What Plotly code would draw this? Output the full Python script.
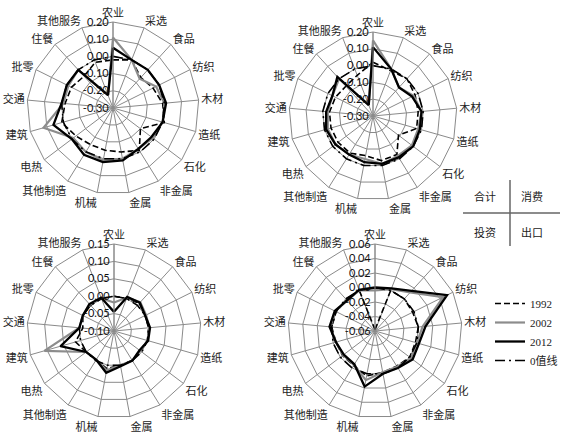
import plotly.graph_objects as go

W, H = 566, 434

categories = ["农业", "采选", "食品", "纺织", "木材", "造纸", "石化", "非金属", "金属",
              "机械", "其他制造", "电热", "建筑", "交通", "批零", "住餐", "其他服务"]

years = ["1992", "2002", "2012"]

# 合计 (top-left)
total_1992 = [-0.02, 0.00, -0.06, -0.04, -0.01, 0.01, -0.10, -0.01, -0.04, -0.05, -0.05, -0.03, 0.01, -0.02, -0.03, -0.05, -0.015]
total_2002 = [0.11, 0.00, -0.07, -0.02, 0.00, 0.00, -0.01, -0.02, 0.00, 0.01, 0.00, -0.01, 0.12, -0.01, -0.01, 0.00, -0.22]
total_2012 = [0.05, 0.00, 0.00, 0.00, 0.01, 0.00, -0.02, -0.02, 0.01, 0.02, 0.02, 0.00, 0.06, 0.00, 0.00, 0.00, -0.22]

# 消费 (top-right)
cons_1992 = [0.02, -0.01, 0.00, -0.02, -0.03, -0.03, -0.11, -0.03, -0.03, -0.06, -0.04, -0.04, -0.04, -0.04, -0.05, -0.06, -0.04]
cons_2002 = [0.15, 0.00, -0.07, -0.03, -0.01, -0.02, -0.01, -0.02, -0.01, -0.04, -0.03, -0.02, -0.02, -0.03, -0.03, 0.00, -0.23]
cons_2012 = [0.11, 0.00, -0.07, -0.04, -0.01, -0.01, 0.00, -0.01, -0.01, -0.02, -0.03, -0.02, -0.01, -0.02, -0.03, 0.015, -0.23]

# 投资 (bottom-left)
inv_1992 = [0.00, 0.00, 0.008, 0.00, 0.00, 0.00, -0.006, 0.00, 0.00, 0.01, -0.003, 0.00, 0.015, -0.01, 0.00, 0.00, 0.00]
inv_2002 = [-0.018, 0.003, 0.012, 0.003, 0.002, 0.00, -0.005, 0.00, 0.00, 0.015, -0.003, 0.00, 0.108, 0.00, 0.00, 0.003, 0.00]
inv_2012 = [-0.045, 0.005, 0.01, 0.00, 0.004, 0.002, -0.008, 0.00, 0.003, 0.022, -0.003, 0.00, 0.06, 0.00, 0.00, 0.005, 0.003]

# 出口 (bottom-right)
exp_1992 = [-0.058, 0.00, 0.00, -0.002, 0.00, -0.002, 0.00, -0.003, -0.002, 0.003, -0.004, -0.004, -0.004, 0.00, 0.00, -0.002, 0.00]
exp_2002 = [-0.004, 0.002, 0.012, 0.045, 0.006, 0.00, 0.002, -0.002, -0.002, 0.009, -0.005, -0.005, -0.004, 0.002, 0.001, -0.003, 0.00]
exp_2012 = [0.00, 0.003, 0.015, 0.051, 0.01, 0.003, 0.005, 0.00, 0.00, 0.018, -0.006, -0.006, -0.004, 0.003, 0.002, -0.003, 0.001]

zero_line = [0.0] * len(categories)

tick_tl = [-0.30, -0.20, -0.10, 0.00, 0.10, 0.20]
tick_bl = [-0.10, -0.05, 0.00, 0.05, 0.10, 0.15]
tick_br = [-0.06, -0.04, -0.02, 0.00, 0.02, 0.04, 0.06]

quad_labels = ["合计", "消费", "投资", "出口"]

panels = [
    ("polar", [total_1992, total_2002, total_2012], tick_tl, (113, 108, 86)),
    ("polar2", [cons_1992, cons_2002, cons_2012], tick_tl, (373, 116, 84)),
    ("polar3", [inv_1992, inv_2002, inv_2012], tick_bl, (114, 331, 87)),
    ("polar4", [exp_1992, exp_2002, exp_2012], tick_br, (375, 331, 87)),
]

styles = [
    dict(color="black", width=1.6, dash="6px,3px"),
    dict(color="#8c8c8c", width=2.2, dash="solid"),
    dict(color="black", width=2.3, dash="solid"),
]
zero_style = dict(color="black", width=1.6, dash="10px,4px,2px,4px")

SANS = "Lato, 'Noto Sans CJK SC', sans-serif"
SERIF = "'Liberation Serif', 'Noto Sans CJK SC', serif"

fig = go.Figure()

def closed(vals):
    return list(vals) + [vals[0]]

cats_closed = categories + [categories[0]]

layout_polars = {}
for i, (pname, series, ticks, (cx, cy, r)) in enumerate(panels):
    first = i == 0
    for y, vals, st in zip(years, series, styles):
        fig.add_trace(go.Scatterpolar(
            r=closed(vals), theta=cats_closed, mode="lines", subplot=pname,
            line=st, name=y, showlegend=first, legendgroup=y, hoverinfo="skip"))
    fig.add_trace(go.Scatterpolar(
        r=closed(zero_line), theta=cats_closed, mode="lines", subplot=pname,
        line=zero_style, name="0值线", showlegend=first, legendgroup="zero", hoverinfo="skip"))
    # center hub
    fig.add_trace(go.Scatterpolar(
        r=[ticks[0]], theta=[categories[0]], mode="markers", subplot=pname,
        marker=dict(color="#8a8a8a", size=9), showlegend=False, hoverinfo="skip"))
    x0, x1 = (cx - r) / W, (cx + r) / W
    y0, y1 = 1 - (cy + r) / H, 1 - (cy - r) / H
    layout_polars[pname] = dict(
        domain=dict(x=[x0, x1], y=[y0, y1]),
        gridshape="linear",
        bgcolor="white",
        angularaxis=dict(
            direction="clockwise", rotation=90, categoryorder="array",
            categoryarray=categories,
            showline=True, linecolor="#8a8a8a", linewidth=1,
            gridcolor="#8a8a8a", gridwidth=1,
            ticks="", tickfont=dict(family=SERIF, size=11, color="#222"),
        ),
        radialaxis=dict(
            range=[ticks[0], ticks[-1]], tickvals=ticks,
            ticktext=[f"{t:.2f}" for t in ticks],
            angle=90, tickangle=90, side="counterclockwise",
            showline=True, linecolor="#8a8a8a", linewidth=1,
            gridcolor="#8a8a8a", gridwidth=1, ticks="",
            tickfont=dict(family=SANS, size=11, color="#111"),
        ),
    )

fig.update_layout(**layout_polars)

# quadrant key
def px(x):
    return x / W

def py(y):
    return 1 - y / H

shapes = [
    dict(type="line", xref="paper", yref="paper", x0=px(510), x1=px(510), y0=py(180), y1=py(246),
         line=dict(color="#666", width=1.5)),
    dict(type="line", xref="paper", yref="paper", x0=px(463), x1=px(560), y0=py(213), y1=py(213),
         line=dict(color="#666", width=1.5)),
]
ann_pos = [(485, 196), (532, 196), (485, 232), (532, 232)]
annotations = [
    dict(text=t, x=px(x), y=py(y), xref="paper", yref="paper", showarrow=False,
         xanchor="center", yanchor="middle",
         font=dict(family=SERIF, size=11, color="#222"))
    for t, (x, y) in zip(quad_labels, ann_pos)
]

fig.update_layout(
    width=W, height=H,
    margin=dict(l=0, r=0, t=0, b=0),
    paper_bgcolor="white", plot_bgcolor="white",
    shapes=shapes, annotations=annotations,
    legend=dict(x=px(490), y=py(289), xanchor="left", yanchor="top",
                font=dict(family=SERIF, size=11, color="#222"),
                bgcolor="rgba(0,0,0,0)", itemwidth=30, tracegroupgap=0),
)

fig.write_html("out.html", config={"displayModeBar": False},
               post_script="document.body.style.margin='0';")
